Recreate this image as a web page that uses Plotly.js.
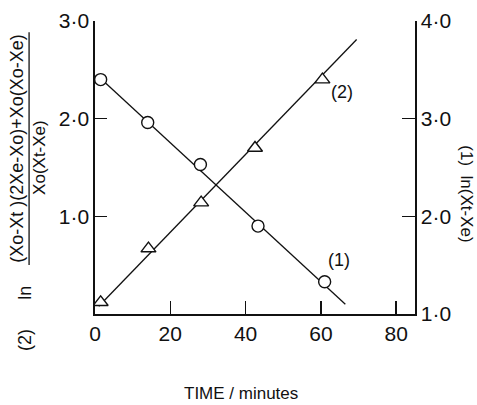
<!DOCTYPE html>
<html>
<head>
<meta charset="utf-8">
<script src="https://cdn.plot.ly/plotly-3.0.1.min.js"></script>
<style>html,body{margin:0;padding:0;background:#fff;}#chart{width:477px;height:405px;}</style>
</head>
<body>
<div id="chart"></div>
<script>
// Series (1): ln(Xt - Xe), right axis (circles)
const time1 = [1.5, 14, 28, 43.3, 61];
const lnXtXe = [3.40, 2.96, 2.53, 1.90, 1.33];
// Series (2): ln[...] expression, left axis (triangles)
const time2 = [1.5, 14.2, 28.2, 42.5, 60.4];
const lnExpr = [0.12, 0.67, 1.14, 1.70, 2.40];
// Fitted straight lines drawn in the figure
const fit1T = [1, 66.5];
const fit1Y = [3.43, 1.10];
const fit2T = [1, 69.5];
const fit2Y = [0.08, 2.81];
// Tick values and labels
const xTicks = [0, 20, 40, 60, 80];
const xTickText = ['0', '20', '40', '60', '80'];
const yTicks = [1, 2, 3];
const yTickText = ['1\u00b70', '2\u00b70', '3\u00b70'];
const y2Ticks = [1, 2, 3, 4];
const y2TickText = ['1\u00b70', '2\u00b70', '3\u00b70', '4\u00b70'];

const FONT = 'Liberation Sans, Arial, sans-serif';
const INK = '#111';

const traces = [
  {x: fit1T, y: fit1Y, yaxis: 'y2', mode: 'lines', line: {color: INK, width: 1.3}, hoverinfo: 'skip'},
  {x: fit2T, y: fit2Y, yaxis: 'y', mode: 'lines', line: {color: INK, width: 1.3}, hoverinfo: 'skip'},
  {x: time1, y: lnXtXe, yaxis: 'y2', mode: 'markers',
   marker: {symbol: 'circle', size: 12, color: '#fff', line: {color: INK, width: 1.4}}},
  {x: time2, y: lnExpr, yaxis: 'y', mode: 'markers',
   marker: {symbol: 'triangle-up', size: 13, color: '#fff', line: {color: INK, width: 1.4}}}
];

function note(text, x, y, angle, size) {
  return {text: text, x: x, y: y, xref: 'paper', yref: 'paper', xanchor: 'center', yanchor: 'middle',
          textangle: angle, showarrow: false, font: {size: size, family: FONT, color: INK}};
}

const layout = {
  width: 477, height: 405,
  margin: {l: 95, r: 62, t: 21, b: 91},
  paper_bgcolor: '#fff', plot_bgcolor: '#fff',
  showlegend: false,
  font: {family: FONT, color: INK},
  xaxis: {
    range: [0, 85], showgrid: false, zeroline: false,
    showline: true, linecolor: INK, linewidth: 1.6,
    ticks: 'inside', ticklen: 13, tickwidth: 1.4, tickcolor: INK,
    tickvals: xTicks, ticktext: xTickText,
    tickfont: {size: 21, family: FONT, color: INK}
  },
  yaxis: {
    range: [0, 3], showgrid: false, zeroline: false,
    showline: true, linecolor: INK, linewidth: 1.6,
    ticks: 'inside', ticklen: 12, tickwidth: 1.4, tickcolor: INK,
    tickvals: yTicks, ticktext: yTickText,
    tickfont: {size: 21, family: FONT, color: INK}
  },
  yaxis2: {
    range: [1, 4], overlaying: 'y', side: 'right', showgrid: false, zeroline: false,
    showline: true, linecolor: INK, linewidth: 1.6,
    ticks: 'inside', ticklen: 13, tickwidth: 1.4, tickcolor: INK,
    tickvals: y2Ticks, ticktext: y2TickText,
    tickfont: {size: 21, family: FONT, color: INK}
  },
  annotations: [
    {text: '(2)', x: 65.5, y: 2.27, xref: 'x', yref: 'y', xanchor: 'center', yanchor: 'middle', showarrow: false, font: {size: 18, family: FONT, color: INK}},
    {text: '(1)', x: 64.8, y: 0.55, xref: 'x', yref: 'y', xanchor: 'center', yanchor: 'middle', showarrow: false, font: {size: 18, family: FONT, color: INK}},
    note('TIME / minutes', 0.456, -0.272, 0, 17),
    note('(1)  ln(Xt-Xe)', 1.1625, 0.412, 90, 17),
    note('(2)', -0.219, -0.089, -90, 18),
    note('ln', -0.219, 0.072, -90, 18),
    note('(Xo-Xt )(2Xe-Xo)+Xo(Xo-Xe)', -0.244, 0.567, -90, 18),
    note('Xo(Xt-Xe)', -0.172, 0.536, -90, 17)
  ],
  shapes: [
    {type: 'line', xref: 'paper', yref: 'paper', x0: -0.206, x1: -0.206, y0: 0.167, y1: 0.962, line: {color: INK, width: 1.3}}
  ]
};

Plotly.newPlot('chart', traces, layout, {staticPlot: true, displayModeBar: false});
</script>
</body>
</html>
